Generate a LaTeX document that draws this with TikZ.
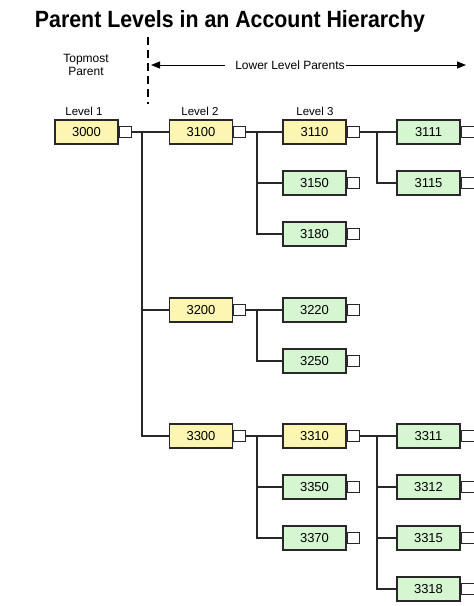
\documentclass[tikz,border=0pt]{standalone}
\usepackage{fontspec}
\setmainfont{Liberation Sans}
\usetikzlibrary{arrows.meta}
\definecolor{ybox}{RGB}{252,246,178}
\definecolor{gbox}{RGB}{214,246,210}
\definecolor{edge}{RGB}{40,40,40}
\begin{document}
\begin{tikzpicture}[x=1pt,y=-1pt,
  acct/.style={draw=edge, line width=1.2pt, minimum width=63pt, minimum height=24pt, inner sep=0pt, font=\fontsize{13}{14}\selectfont},
  parbox/.style={acct, fill=ybox},
  leafbox/.style={acct, fill=gbox},
  tabbox/.style={draw=edge, line width=1.2pt, fill=white, minimum width=12pt, minimum height=11pt, inner sep=0pt, anchor=west},
  opentab/.style={tabbox, minimum width=20pt},
  link/.style={draw=edge, line width=1.1pt},
  lbl/.style={font=\fontsize{12}{13}\selectfont, inner sep=1pt},
  lvl/.style={font=\fontsize{11.5}{13}\selectfont, inner sep=1pt}]
\useasboundingbox (0,0) rectangle (474,606);
\clip (0,0) rectangle (474,606);
% header
\node (title) [anchor=base, font=\bfseries\fontsize{23.5}{26}\selectfont, inner sep=0pt] at (230,27) {\resizebox{390pt}{\height}{Parent Levels in an Account Hierarchy}};
\node (topm) [lbl, align=center] at (86,65) {Topmost\\[0pt]Parent};
\coordinate (dtop) at (148,37);
\coordinate (dbot) at (148,104);
\draw[line width=2pt, dash pattern=on 8pt off 5pt] (dtop) -- (dbot);
\node (llp) [lbl] at (290,65) {Lower Level Parents};
\coordinate (aL) at (151,65);
\coordinate (aR) at (466,65);
\draw[line width=1pt, -{Triangle[length=9pt,width=7pt]}] ([xshift=-9pt]llp.west) -- (aL);
\draw[line width=1pt, -{Triangle[length=9pt,width=7pt]}] (llp.east) -- (aR);
\node (lv1) [lvl] at (84,111) {Level 1};
\node (lv2) [lvl] at (200,111) {Level 2};
\node (lv3) [lvl] at (315,111) {Level 3};
% level 1
\node (b3000) [parbox] at (86.5,132) {3000};
\node (t3000) [tabbox] at (b3000.east) {};
% level 2
\node (b3100) [parbox] at (201,132) {3100};
\node (t3100) [tabbox] at (b3100.east) {};
\node (b3200) [parbox] at (201,310) {3200};
\node (t3200) [tabbox] at (b3200.east) {};
\node (b3300) [parbox] at (201,436) {3300};
\node (t3300) [tabbox] at (b3300.east) {};
% level 3
\node (b3110) [parbox] at (314.5,132) {3110};
\node (t3110) [tabbox] at (b3110.east) {};
\node (b3150) [leafbox] at (314.5,183) {3150};
\node (t3150) [tabbox] at (b3150.east) {};
\node (b3180) [leafbox] at (314.5,234) {3180};
\node (t3180) [tabbox] at (b3180.east) {};
\node (b3220) [leafbox] at (314.5,310) {3220};
\node (t3220) [tabbox] at (b3220.east) {};
\node (b3250) [leafbox] at (314.5,361) {3250};
\node (t3250) [tabbox] at (b3250.east) {};
\node (b3310) [parbox] at (314.5,436) {3310};
\node (t3310) [tabbox] at (b3310.east) {};
\node (b3350) [leafbox] at (314.5,487) {3350};
\node (t3350) [tabbox] at (b3350.east) {};
\node (b3370) [leafbox] at (314.5,538) {3370};
\node (t3370) [tabbox] at (b3370.east) {};
% level 4
\node (b3111) [leafbox] at (428.5,132) {3111};
\node (t3111) [opentab] at (b3111.east) {};
\node (b3115) [leafbox] at (428.5,183) {3115};
\node (t3115) [opentab] at (b3115.east) {};
\node (b3311) [leafbox] at (428.5,436) {3311};
\node (t3311) [opentab] at (b3311.east) {};
\node (b3312) [leafbox] at (428.5,487) {3312};
\node (t3312) [opentab] at (b3312.east) {};
\node (b3315) [leafbox] at (428.5,538) {3315};
\node (t3315) [opentab] at (b3315.east) {};
\node (b3318) [leafbox] at (428.5,589) {3318};
\node (t3318) [opentab] at (b3318.east) {};
% junctions
\coordinate (j1) at (142,132);
\coordinate (j2) at (257,132);
\coordinate (j3) at (377,132);
\coordinate (j4) at (257,310);
\coordinate (j5) at (257,436);
\coordinate (j6) at (377,436);
% connectors
\draw[link] (t3000.east) -- (b3100.west);
\draw[link] (j1) |- (b3200.west);
\draw[link] (j1) |- (b3300.west);
\draw[link] (t3100.east) -- (b3110.west);
\draw[link] (j2) |- (b3150.west);
\draw[link] (j2) |- (b3180.west);
\draw[link] (t3110.east) -- (b3111.west);
\draw[link] (j3) |- (b3115.west);
\draw[link] (t3200.east) -- (b3220.west);
\draw[link] (j4) |- (b3250.west);
\draw[link] (t3300.east) -- (b3310.west);
\draw[link] (j5) |- (b3350.west);
\draw[link] (j5) |- (b3370.west);
\draw[link] (t3310.east) -- (b3311.west);
\draw[link] (j6) |- (b3312.west);
\draw[link] (j6) |- (b3315.west);
\draw[link] (j6) |- (b3318.west);
\end{tikzpicture}
\end{document}
